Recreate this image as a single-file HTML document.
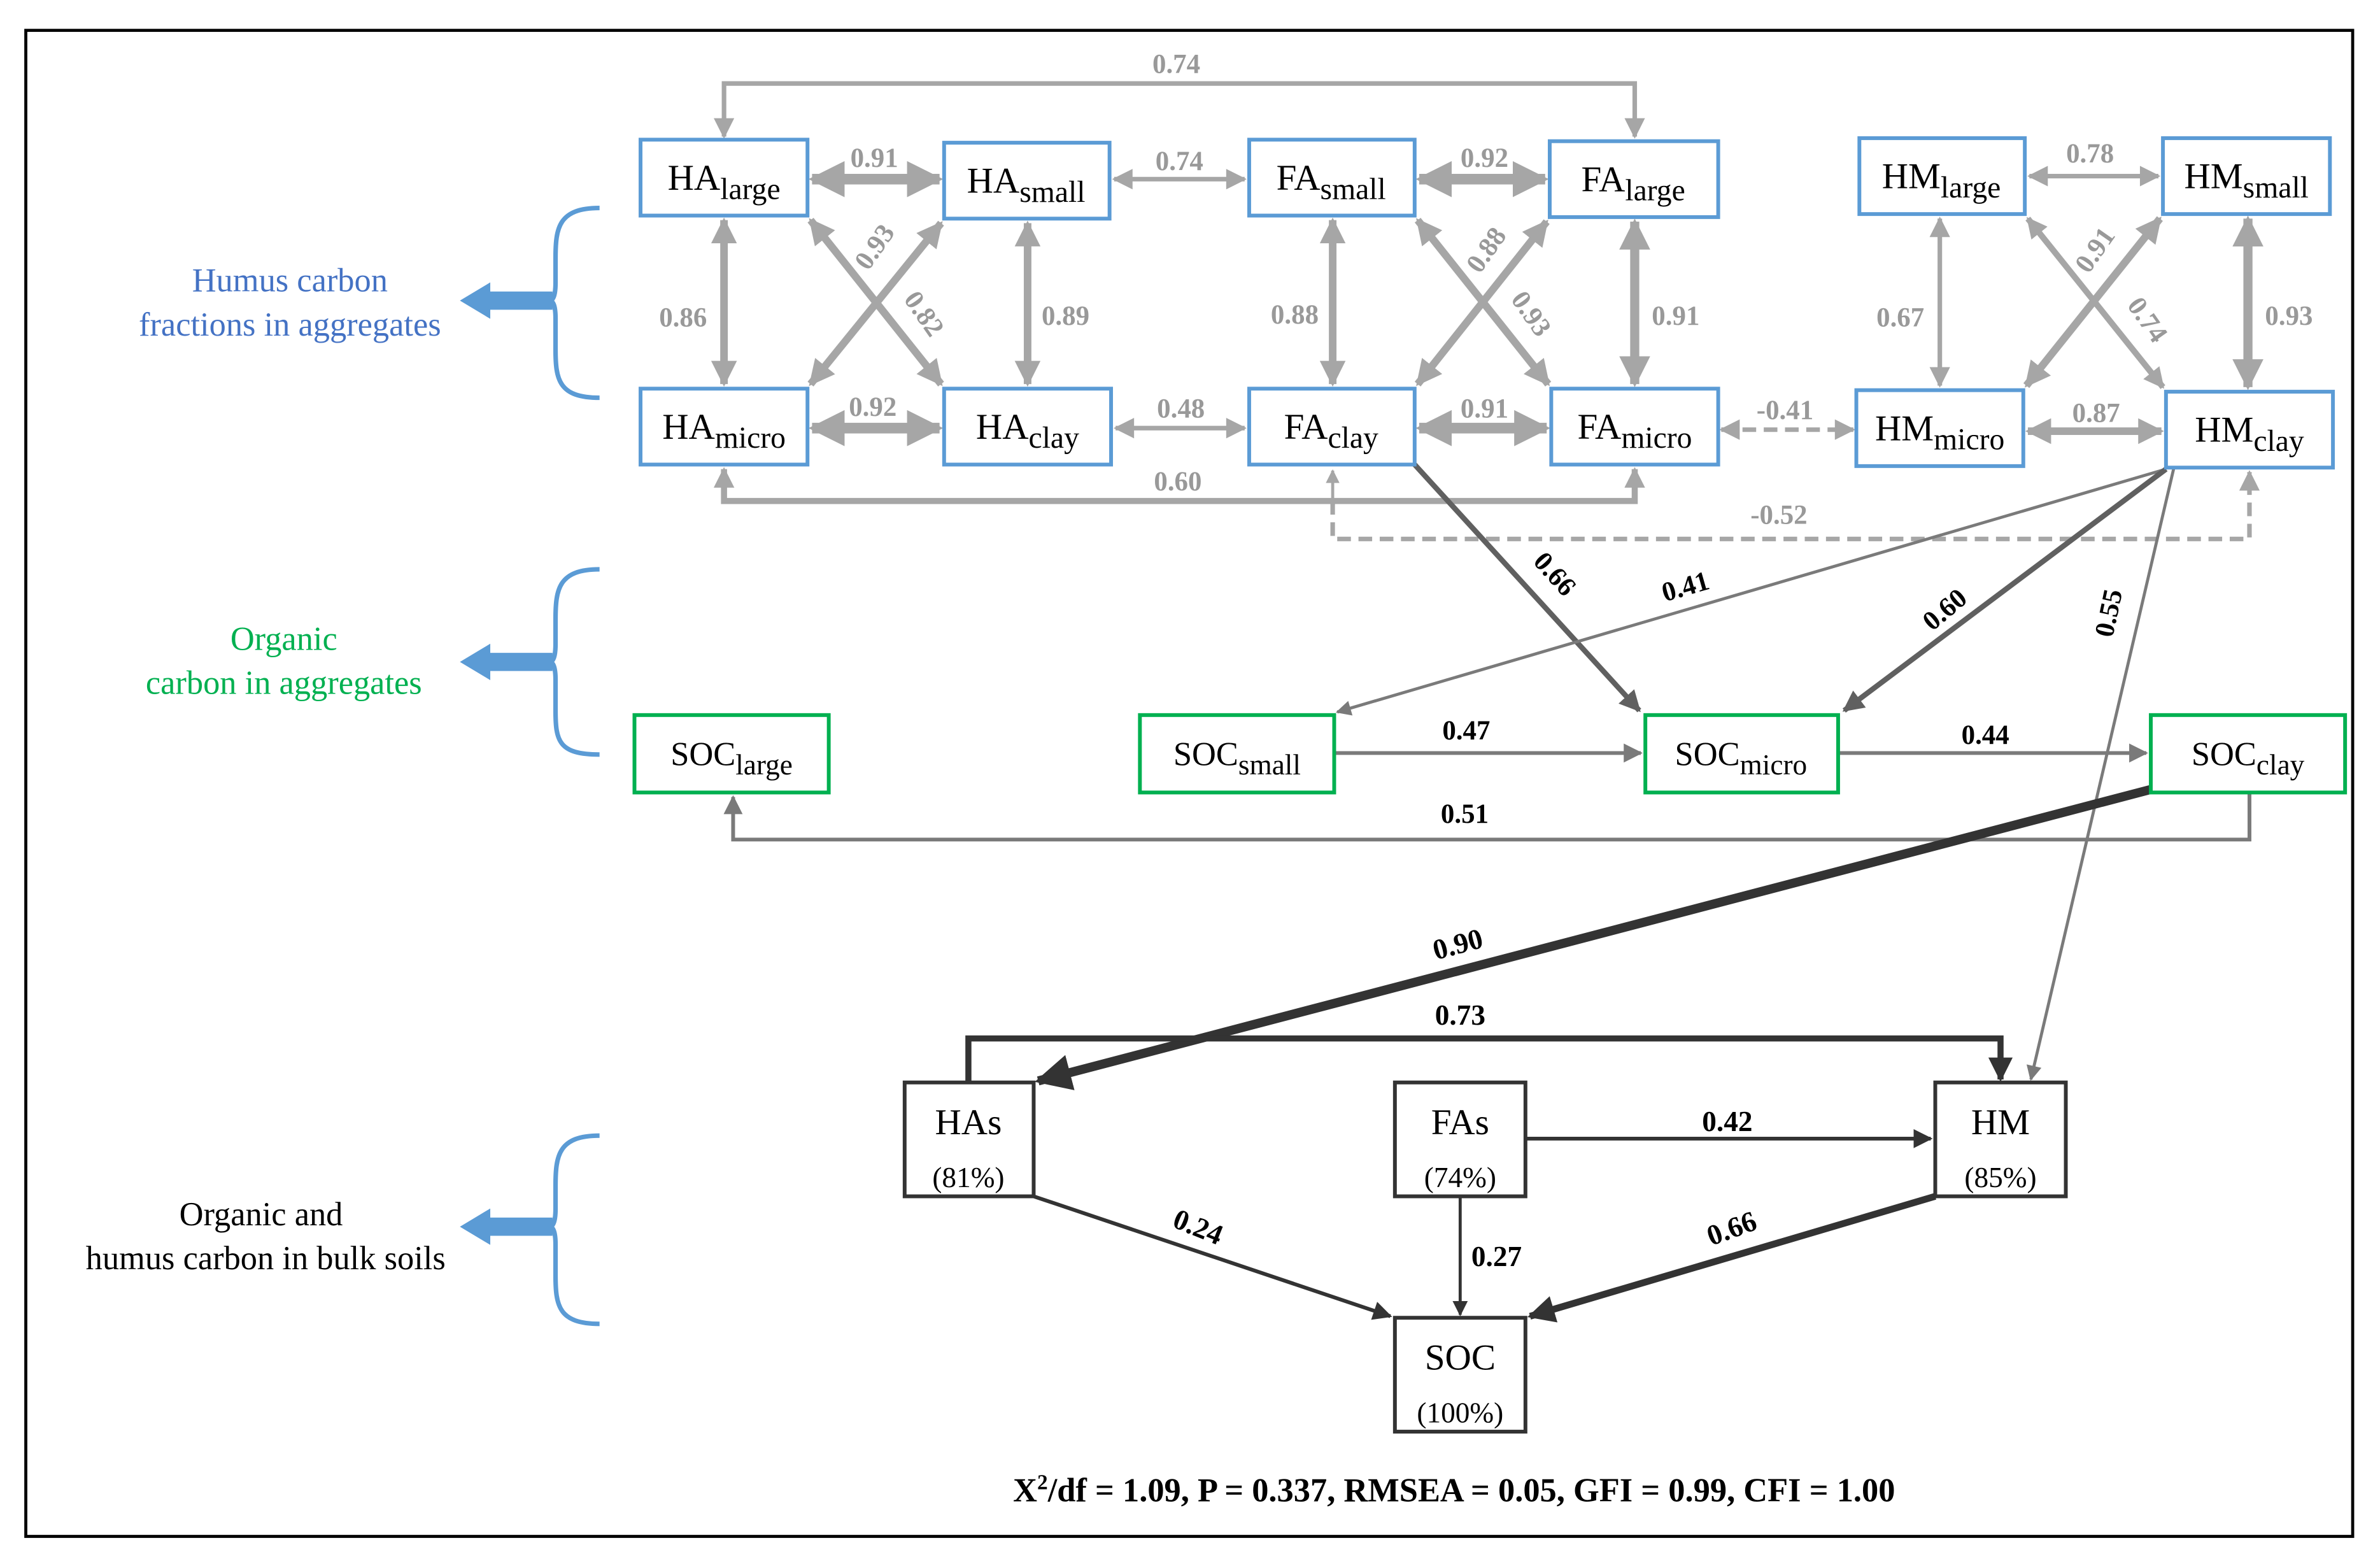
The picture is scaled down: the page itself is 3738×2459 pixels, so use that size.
<!DOCTYPE html>
<html><head><meta charset="utf-8"><style>html,body{margin:0;padding:0;background:#fff}svg{display:block}svg text{font-family:"Liberation Serif","Times New Roman",Times,"Noto Serif CJK SC","DejaVu Serif",serif}</style></head><body>
<svg width="3738" height="2459" viewBox="0 0 1568 1031.5" preserveAspectRatio="none" xmlns="http://www.w3.org/2000/svg">
<defs>
<marker id="ag" viewBox="0 0 10 10" refX="9" refY="5" markerWidth="3.4" markerHeight="3.4" orient="auto-start-reverse"><path d="M0,0L10,5L0,10z" fill="#a6a6a6"/></marker>
<marker id="agt" viewBox="0 0 10 10" refX="9" refY="5" markerWidth="5.5" markerHeight="4.5" orient="auto-start-reverse"><path d="M0,0L10,5L0,10z" fill="#a6a6a6"/></marker>
<marker id="am" viewBox="0 0 10 10" refX="9" refY="5" markerWidth="4" markerHeight="4" orient="auto"><path d="M0,0L10,5L0,10z" fill="#606060"/></marker>
<marker id="al" viewBox="0 0 10 10" refX="9" refY="5" markerWidth="6" markerHeight="5" orient="auto"><path d="M0,0L10,5L0,10z" fill="#7a7a7a"/></marker>
<marker id="ad" viewBox="0 0 10 10" refX="9" refY="5" markerWidth="4" markerHeight="4" orient="auto"><path d="M0,0L10,5L0,10z" fill="#333"/></marker>
<marker id="adt" viewBox="0 0 10 10" refX="9" refY="5" markerWidth="6" markerHeight="5" orient="auto"><path d="M0,0L10,5L0,10z" fill="#333"/></marker>
</defs>
<rect x="17" y="20" width="1533" height="992" fill="none" stroke="#000" stroke-width="2"/>

<g stroke="#a6a6a6" fill="none">
<path d="M477,90 V55 H1077 V90" stroke-width="3" marker-start="url(#agt)" marker-end="url(#agt)"/>
<path d="M477,309 V330 H1077 V309" stroke-width="4" marker-start="url(#ag)" marker-end="url(#ag)"/>
<path d="M878,330 V310" stroke-width="2" marker-end="url(#agt)"/>
<path d="M878,330 V355 H1482 V311" stroke-width="3" stroke-dasharray="9,5" marker-end="url(#agt)"/>
<path d="M1134,283 H1221" stroke-width="3" stroke-dasharray="9,5" marker-start="url(#agt)" marker-end="url(#agt)"/>
<path d="M535,118 H619" stroke-width="7" marker-start="url(#ag)" marker-end="url(#ag)"/>
<path d="M734,118 H820" stroke-width="3" marker-start="url(#agt)" marker-end="url(#agt)"/>
<path d="M935,118 H1018" stroke-width="7" marker-start="url(#ag)" marker-end="url(#ag)"/>
<path d="M1337,116 H1422" stroke-width="3" marker-start="url(#agt)" marker-end="url(#agt)"/>
<path d="M535,282 H619" stroke-width="7" marker-start="url(#ag)" marker-end="url(#ag)"/>
<path d="M735,282 H820" stroke-width="3" marker-start="url(#agt)" marker-end="url(#agt)"/>
<path d="M935,282 H1019" stroke-width="7" marker-start="url(#ag)" marker-end="url(#ag)"/>
<path d="M1336,284 H1424" stroke-width="5" marker-start="url(#ag)" marker-end="url(#ag)"/>
<path d="M477,145 V253" stroke-width="5" marker-start="url(#ag)" marker-end="url(#ag)"/>
<path d="M677,147 V253" stroke-width="5" marker-start="url(#ag)" marker-end="url(#ag)"/>
<path d="M878,145 V253" stroke-width="5" marker-start="url(#ag)" marker-end="url(#ag)"/>
<path d="M1077,146 V253" stroke-width="6" marker-start="url(#ag)" marker-end="url(#ag)"/>
<path d="M1278,144 V254" stroke-width="3" marker-start="url(#agt)" marker-end="url(#agt)"/>
<path d="M1481,144 V255" stroke-width="6" marker-start="url(#ag)" marker-end="url(#ag)"/>
<path d="M534,145 L620,253" stroke-width="5" marker-start="url(#ag)" marker-end="url(#ag)"/>
<path d="M620,147 L534,253" stroke-width="5" marker-start="url(#ag)" marker-end="url(#ag)"/>
<path d="M934,145 L1020,253" stroke-width="5" marker-start="url(#ag)" marker-end="url(#ag)"/>
<path d="M1019,146 L934,253" stroke-width="5" marker-start="url(#ag)" marker-end="url(#ag)"/>
<path d="M1336,144 L1425,255" stroke-width="4" marker-start="url(#ag)" marker-end="url(#ag)"/>
<path d="M1423,144 L1335,254" stroke-width="5" marker-start="url(#ag)" marker-end="url(#ag)"/>
</g>
<g fill="#999" font-weight="bold" font-size="18" text-anchor="middle">
<text x="775" y="48">0.74</text>
<text x="576" y="110">0.91</text><text x="777" y="112">0.74</text><text x="978" y="110">0.92</text><text x="1377" y="107">0.78</text>
<text x="575" y="274">0.92</text><text x="778" y="275">0.48</text><text x="978" y="275">0.91</text><text x="1381" y="278">0.87</text>
<text x="776" y="323">0.60</text><text x="1172" y="345">-0.52</text><text x="1176" y="276">-0.41</text>
<text x="450" y="215">0.86</text><text x="702" y="214">0.89</text><text x="853" y="213">0.88</text><text x="1104" y="214">0.91</text>
<text x="1252" y="215">0.67</text><text x="1508" y="214">0.93</text>
<text transform="translate(581,166) rotate(-55)">0.93</text>
<text transform="translate(604,210) rotate(55)">0.82</text>
<text transform="translate(984,168) rotate(-55)">0.88</text>
<text transform="translate(1004,210) rotate(55)">0.93</text>
<text transform="translate(1385,168) rotate(-55)">0.91</text>
<text transform="translate(1410,214) rotate(55)">0.74</text>
</g>

<g fill="none">
<path d="M932,306 L1080,468" stroke="#606060" stroke-width="3.5" marker-end="url(#am)"/>
<path d="M1427,309 L881,469" stroke="#7a7a7a" stroke-width="2" marker-end="url(#al)"/>
<path d="M1427,309 L1215,468" stroke="#606060" stroke-width="3.5" marker-end="url(#am)"/>
<path d="M1432,309 L1338,711" stroke="#7a7a7a" stroke-width="2" marker-end="url(#al)"/>
<path d="M879,496 H1081" stroke="#7a7a7a" stroke-width="2.5" marker-end="url(#al)"/>
<path d="M1211,496 H1414" stroke="#7a7a7a" stroke-width="2.5" marker-end="url(#al)"/>
<path d="M1482,522 V553 H483 V525" stroke="#7a7a7a" stroke-width="2.5" marker-end="url(#al)"/>
</g>
<g fill="#000" font-weight="bold" font-size="18" text-anchor="middle">
<text transform="translate(1020,382) rotate(48)">0.66</text>
<text transform="translate(1112,392) rotate(-16)">0.41</text>
<text transform="translate(1285,406) rotate(-40)">0.60</text>
<text transform="translate(1395,405) rotate(-78)">0.55</text>
<text x="966" y="487">0.47</text><text x="1308" y="490">0.44</text><text x="965" y="542">0.51</text>
</g>

<g fill="none" stroke="#333">
<path d="M1417,520 L684,712" stroke-width="6" marker-end="url(#ad)"/>
<path d="M638,713 V684 H1318 V711" stroke-width="4" marker-end="url(#ad)"/>
<path d="M1005,750 H1272" stroke-width="2.5" marker-end="url(#adt)"/>
<path d="M681,788 L916,867" stroke-width="2.5" marker-end="url(#adt)"/>
<path d="M962,788 V866" stroke-width="2" marker-end="url(#adt)"/>
<path d="M1275,788 L1008,867" stroke-width="4.5" marker-end="url(#ad)"/>
</g>
<g fill="#000" font-weight="bold" font-size="19" text-anchor="middle">
<text transform="translate(962,628) rotate(-15)">0.90</text>
<text x="962" y="675">0.73</text>
<text x="1138" y="745">0.42</text>
<text transform="translate(787,814) rotate(22)">0.24</text>
<text x="986" y="834">0.27</text>
<text transform="translate(1143,815) rotate(-20)">0.66</text>
</g>

<g fill="#fff" stroke="#5b9bd5" stroke-width="2.5">
<rect x="422" y="92" width="110" height="50"/><rect x="622" y="94" width="109" height="50"/>
<rect x="823" y="92" width="109" height="50"/><rect x="1021" y="93" width="111" height="50"/>
<rect x="1225" y="91" width="109" height="50"/><rect x="1425" y="91" width="110" height="50"/>
<rect x="422" y="256" width="110" height="50"/><rect x="622" y="256" width="110" height="50"/>
<rect x="823" y="256" width="109" height="50"/><rect x="1022" y="256" width="110" height="50"/>
<rect x="1223" y="257" width="110" height="50"/><rect x="1427" y="258" width="110" height="50"/>
</g>
<g fill="#fff" stroke="#00b050" stroke-width="2.5">
<rect x="418" y="471" width="128" height="51"/><rect x="751" y="471" width="128" height="51"/>
<rect x="1084" y="471" width="127" height="51"/><rect x="1417" y="471" width="128" height="51"/>
</g>
<g fill="#fff" stroke="#333" stroke-width="2.5">
<rect x="596" y="713" width="85" height="75"/><rect x="919" y="713" width="86" height="75"/>
<rect x="1275" y="713" width="86" height="75"/><rect x="919" y="868" width="86" height="75"/>
</g>
<g fill="#000" font-size="24" text-anchor="middle">
<text x="477" y="125">HA<tspan font-size="20" dy="6">large</tspan></text>
<text x="676" y="127">HA<tspan font-size="20" dy="6">small</tspan></text>
<text x="877" y="125">FA<tspan font-size="20" dy="6">small</tspan></text>
<text x="1076" y="126">FA<tspan font-size="20" dy="6">large</tspan></text>
<text x="1279" y="124">HM<tspan font-size="20" dy="6">large</tspan></text>
<text x="1480" y="124">HM<tspan font-size="20" dy="6">small</tspan></text>
<text x="477" y="289">HA<tspan font-size="20" dy="6">micro</tspan></text>
<text x="677" y="289">HA<tspan font-size="20" dy="6">clay</tspan></text>
<text x="877" y="289">FA<tspan font-size="20" dy="6">clay</tspan></text>
<text x="1077" y="289">FA<tspan font-size="20" dy="6">micro</tspan></text>
<text x="1278" y="290">HM<tspan font-size="20" dy="6">micro</tspan></text>
<text x="1482" y="291">HM<tspan font-size="20" dy="6">clay</tspan></text>
<text x="482" y="504" font-size="22">SOC<tspan font-size="19" dy="6">large</tspan></text>
<text x="815" y="504" font-size="22">SOC<tspan font-size="19" dy="6">small</tspan></text>
<text x="1147" y="504" font-size="22">SOC<tspan font-size="19" dy="6">micro</tspan></text>
<text x="1481" y="504" font-size="22">SOC<tspan font-size="19" dy="6">clay</tspan></text>
<text x="638" y="747">HAs</text><text x="638" y="782" font-size="19">(81%)</text>
<text x="962" y="747">FAs</text><text x="962" y="782" font-size="19">(74%)</text>
<text x="1318" y="747">HM</text><text x="1318" y="782" font-size="19">(85%)</text>
<text x="962" y="902">SOC</text><text x="962" y="937" font-size="19">(100%)</text>
</g>

<g fill="none" stroke="#5b9bd5" stroke-width="3">
<path d="M395,137 C368,137 366,150 366,170 L366,186 Q366,198 362,198 Q366,198 366,210 L366,230 C366,250 368,262 395,262"/>
<path d="M395,375 C368,375 366,388 366,408 L366,424 Q366,436 362,436 Q366,436 366,448 L366,468 C366,488 368,497 395,497"/>
<path d="M395,748 C368,748 366,761 366,781 L366,796 Q366,808 362,808 Q366,808 366,820 L366,840 C366,860 368,872 395,872"/>
</g>
<g fill="#5b9bd5">
<polygon points="303,198 323,186 323,192 364,192 364,204 323,204 323,210"/>
<polygon points="303,436 323,424 323,430 364,430 364,442 323,442 323,448"/>
<polygon points="303,808 323,796 323,802 364,802 364,814 323,814 323,820"/>
</g>
<g font-size="22" text-anchor="middle">
<text x="191" y="192" fill="#4472c4">Humus carbon</text>
<text x="191" y="221" fill="#4472c4">fractions in aggregates</text>
<text x="187" y="428" fill="#00b050">Organic</text>
<text x="187" y="457" fill="#00b050">carbon in aggregates</text>
<text x="172" y="807" fill="#000">Organic and</text>
<text x="175" y="836" fill="#000">humus carbon in bulk soils</text>
</g>
<text x="958" y="989" font-size="22" font-weight="bold" text-anchor="middle">X<tspan font-size="14" dy="-8">2</tspan><tspan dy="8">/df = 1.09, P = 0.337, RMSEA = 0.05, GFI = 0.99, CFI = 1.00</tspan></text>
</svg>
</body></html>
